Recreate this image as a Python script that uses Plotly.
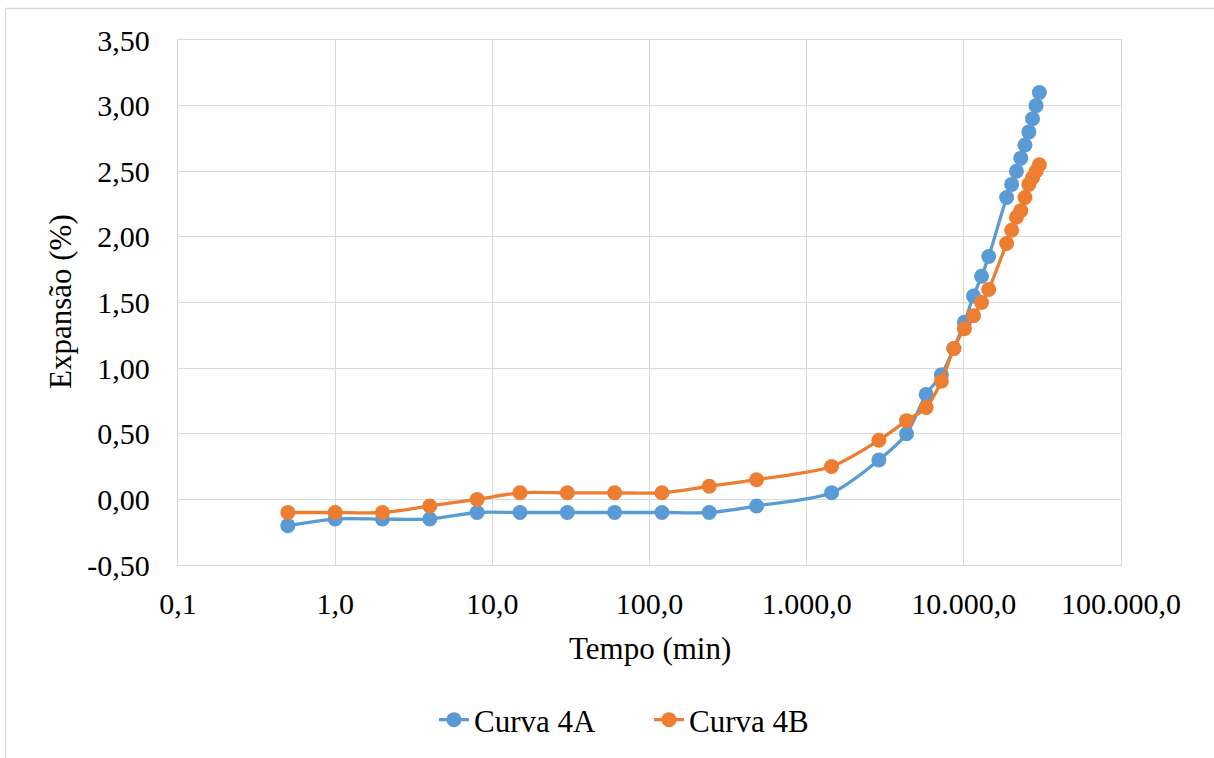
import plotly.graph_objects as go

W, H = 1214, 758
L, R, T, B = 178, 1121, 40, 565

tempo = [0.5, 1, 2, 4, 8, 15, 30, 60, 120, 240, 480, 1440, 2880, 4320, 5760, 7200,
         8640, 10080, 11520, 12960, 14400, 18720, 20160, 21600, 23040, 24480, 25920,
         27360, 28800, 30240]
exp_4A = [-0.20, -0.15, -0.15, -0.15, -0.10, -0.10, -0.10, -0.10, -0.10, -0.10, -0.05,
          0.05, 0.30, 0.50, 0.80, 0.95, 1.15, 1.35, 1.55, 1.70, 1.85, 2.30, 2.40, 2.50,
          2.60, 2.70, 2.80, 2.90, 3.00, 3.10]
exp_4B = [-0.10, -0.10, -0.10, -0.05, 0.00, 0.05, 0.05, 0.05, 0.05, 0.10, 0.15,
          0.25, 0.45, 0.60, 0.70, 0.90, 1.15, 1.30, 1.40, 1.50, 1.60, 1.95, 2.05, 2.15,
          2.20, 2.30, 2.40, 2.45, 2.50, 2.55]

x_tickvals = [0.1, 1, 10, 100, 1000, 10000, 100000]
x_ticktext = ["0,1", "1,0", "10,0", "100,0", "1.000,0", "10.000,0", "100.000,0"]
y_tickvals = [-0.5, 0, 0.5, 1, 1.5, 2, 2.5, 3, 3.5]
y_ticktext = ["-0,50", "0,00", "0,50", "1,00", "1,50", "2,00", "2,50", "3,00", "3,50"]

FONT = "Liberation Serif"
GRID = "#d9d9d9"

fig = go.Figure()
for name, ys, col in [("Curva 4A", exp_4A, "#5B9BD5"), ("Curva 4B", exp_4B, "#ED7D31")]:
    fig.add_trace(go.Scatter(
        x=tempo, y=ys, name=name, mode="lines+markers",
        line=dict(color=col, width=3.3, shape="spline", smoothing=0.8),
        marker=dict(color=col, size=15),
    ))

pw = R - L
ph = B - T

def px(xp):
    return (xp - L) / pw

def py(yp):
    return (B - yp) / ph

fig.update_layout(
    width=W, height=H,
    margin=dict(l=L, r=W - R, t=T, b=H - B),
    paper_bgcolor="white", plot_bgcolor="white",
    font=dict(family=FONT, size=30, color="black"),
    showlegend=True,
    legend=dict(orientation="h", xref="container", yref="container",
                x=434 / W, y=1 - 720 / H, xanchor="left", yanchor="middle",
                entrywidth=170, entrywidthmode="pixels",
                font=dict(family=FONT, size=31), tracegroupgap=0),
    xaxis=dict(type="log", range=[-1, 5], tickvals=x_tickvals, ticktext=x_ticktext,
               showgrid=True, gridcolor=GRID, gridwidth=1.3,
               showline=True, linecolor=GRID, linewidth=1.3, mirror=True,
               ticks="outside", ticklen=12, tickcolor="rgba(0,0,0,0)",
               zeroline=False),
    yaxis=dict(range=[-0.5, 3.5], tickvals=y_tickvals, ticktext=y_ticktext,
               showgrid=True, gridcolor=GRID, gridwidth=1.3,
               showline=True, linecolor=GRID, linewidth=1.3, mirror=True,
               ticks="outside", ticklen=21, tickcolor="rgba(0,0,0,0)",
               zeroline=False),
    annotations=[
        dict(text="Tempo (min)", xref="paper", yref="paper", x=px(650), y=py(648),
             showarrow=False, xanchor="center", yanchor="middle",
             font=dict(family=FONT, size=31)),
        dict(text="Expansão (%)", xref="paper", yref="paper", x=px(60), y=py(302),
             showarrow=False, xanchor="center", yanchor="middle", textangle=-90,
             font=dict(family=FONT, size=31)),
    ],
    shapes=[
        dict(type="line", xref="paper", yref="paper",
             x0=px(5.5), x1=px(1214), y0=py(8.5), y1=py(8.5),
             line=dict(color="#d9d9d9", width=1.3), layer="below"),
        dict(type="line", xref="paper", yref="paper",
             x0=px(5.5), x1=px(5.5), y0=py(8.5), y1=py(758),
             line=dict(color="#d9d9d9", width=1.3), layer="below"),
    ],
)

fig.write_html("out.html", post_script="document.body.style.margin='0';",
               config={"displayModeBar": False})
